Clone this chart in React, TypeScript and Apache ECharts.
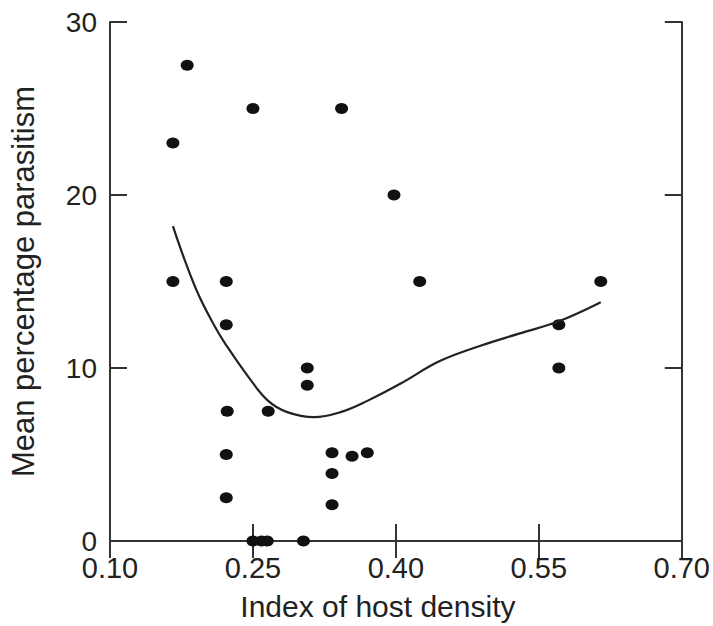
import React, { useEffect, useRef } from "react";
import * as echarts from "echarts";

const hostDensity = [0.181, 0.166, 0.25, 0.343, 0.398, 0.166, 0.222, 0.425, 0.615, 0.571, 0.571, 0.222, 0.307, 0.307, 0.223, 0.266, 0.222, 0.222, 0.333, 0.333, 0.333, 0.354, 0.37, 0.25, 0.259, 0.265, 0.303];
const parasitism = [27.5, 23, 25, 25, 20, 15, 15, 15, 15, 12.5, 10, 12.5, 10, 9, 7.5, 7.5, 5, 2.5, 5.1, 3.9, 2.1, 4.9, 5.1, 0, 0, 0, 0];

const curveX = [0.166, 0.18, 0.194, 0.21, 0.221, 0.245, 0.266, 0.286, 0.314, 0.342, 0.37, 0.405, 0.446, 0.488, 0.53, 0.571, 0.615];
const curveY = [18.2, 16.0, 14.1, 12.4, 11.4, 9.5, 8.1, 7.45, 7.16, 7.45, 8.1, 9.1, 10.4, 11.27, 12.0, 12.7, 13.8];

const xTicks = ["0.10", "0.25", "0.40", "0.55", "0.70"];
const yTicks = ["0", "10", "20", "30"];

const FONT = "'Liberation Sans', Arial, Helvetica, sans-serif";
const AXIS_COLOR = "#333";
const TEXT_COLOR = "#222";

export default function App() {
  const ref = useRef<HTMLDivElement>(null);
  useEffect(() => {
    if (!ref.current) return;
    const chart = echarts.init(ref.current, null, { renderer: "svg" });
    const xMin = Number(xTicks[0]);
    const xMax = Number(xTicks[xTicks.length - 1]);
    const xInt = Number(xTicks[1]) - Number(xTicks[0]);
    const yMin = Number(yTicks[0]);
    const yMax = Number(yTicks[yTicks.length - 1]);
    const yInt = Number(yTicks[1]) - Number(yTicks[0]);
    const axisLine = { show: true, lineStyle: { color: AXIS_COLOR, width: 2 } };
    const axisTick = { show: true, inside: true, length: 17, lineStyle: { color: AXIS_COLOR, width: 2 } };
    chart.setOption({
      animation: false,
      backgroundColor: "#fff",
      grid: { left: 108, right: 30, top: 22, bottom: 81, containLabel: false },
      xAxis: [
        {
          type: "value",
          position: "bottom",
          min: xMin,
          max: xMax,
          interval: xInt,
          axisLine,
          axisTick,
          splitLine: { show: false },
          axisLabel: {
            color: TEXT_COLOR,
            fontFamily: FONT,
            fontSize: 29,
            lineHeight: 22,
            margin: 16,
            formatter: (v: number) => v.toFixed(2),
          },
          name: "Index of host density",
          nameLocation: "middle",
          nameGap: 50,
          nameTextStyle: { color: TEXT_COLOR, fontFamily: FONT, fontSize: 30, padding: [0, 36, 0, 0] },
        },
        {
          type: "value",
          position: "top",
          min: xMin,
          max: xMax,
          interval: xInt,
          axisLine,
          axisTick,
          splitLine: { show: false },
          axisLabel: { show: false },
        },
      ],
      yAxis: [
        {
          type: "value",
          position: "left",
          min: yMin,
          max: yMax,
          interval: yInt,
          axisLine,
          axisTick,
          splitLine: { show: false },
          axisLabel: { color: TEXT_COLOR, fontFamily: FONT, fontSize: 28, lineHeight: 20, margin: 13 },
          name: "Mean percentage parasitism",
          nameLocation: "middle",
          nameGap: 71,
          nameTextStyle: { color: TEXT_COLOR, fontFamily: FONT, fontSize: 31 },
        },
        {
          type: "value",
          position: "right",
          min: yMin,
          max: yMax,
          interval: yInt,
          axisLine,
          axisTick,
          splitLine: { show: false },
          axisLabel: { show: false },
        },
      ],
      series: [
        {
          type: "line",
          data: curveX.map((x, i) => [x, curveY[i]]),
          smooth: 0.4,
          showSymbol: false,
          symbol: "none",
          lineStyle: { color: "#222", width: 2.2 },
          silent: true,
        },
        {
          type: "scatter",
          data: hostDensity.map((x, i) => [x, parasitism[i]]),
          symbol: "circle",
          symbolSize: [13, 11],
          itemStyle: { color: "#111", opacity: 1 },
          silent: true,
        },
      ],
    });
    return () => chart.dispose();
  }, []);
  return <div ref={ref} style={{ width: 713, height: 626, position: "absolute", left: 0, top: 0 }} />;
}
